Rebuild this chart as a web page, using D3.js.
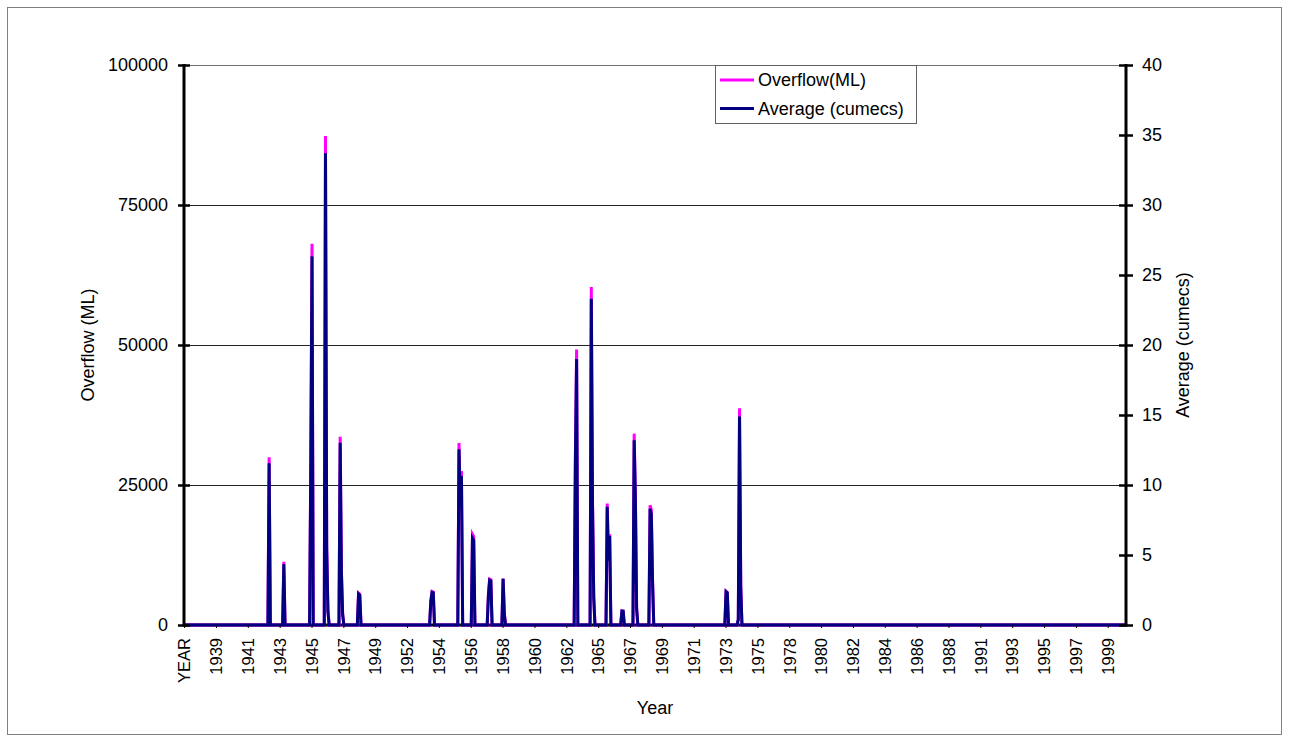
<!DOCTYPE html>
<html>
<head>
<meta charset="utf-8">
<script src="https://cdn.jsdelivr.net/npm/d3@7"></script>
<style>
  body { margin: 0; background: #fff; }
  text { font-family: "Liberation Sans", Arial, sans-serif; fill: #000; }
</style>
</head>
<body>
<div id="chart"></div>
<script>
// Months with a non-zero overflow (all other months are 0)
var peakMonths = ["1942-09", "1943-09",
  "1945-07", "1945-08", "1946-07", "1946-08", "1946-09",
  "1947-07", "1947-08", "1947-09", "1948-10", "1948-11",
  "1953-09", "1953-10", "1953-11", "1955-08", "1955-09", "1955-10",
  "1956-07", "1956-08", "1957-08", "1957-09", "1957-10", "1958-08", "1958-09",
  "1963-07", "1963-08", "1964-08", "1964-09", "1964-10",
  "1965-09", "1965-10", "1965-11", "1966-09", "1966-10",
  "1967-07", "1967-08", "1967-09", "1968-08", "1968-09", "1968-10",
  "1973-10", "1973-11", "1974-08", "1974-09", "1974-10"];

var overflowML = [29950, 11280,
  29000, 68100, 87340, 14000, 2500,
  33630, 9700, 2000, 5700, 5500,
  4300, 6000, 5900, 32500, 22000, 27500,
  16200, 15800, 5500, 8200, 8100, 8300, 2000,
  30000, 49200, 60370, 22000, 5000,
  21700, 12000, 16200, 2500, 2400,
  34170, 23000, 3000, 21400, 20500, 8000,
  6000, 5800, 1000, 38700, 7000];

var averageCumecs = [11.56, 4.35,
  11.2, 26.33, 33.7, 5.4, 0.95,
  13.02, 3.75, 0.77, 2.21, 2.13,
  1.7, 2.33, 2.3, 12.55, 8.5, 10.64,
  6.2, 6.05, 2.1, 3.2, 3.15, 3.3, 0.8,
  11.6, 19.0, 23.3, 8.5, 1.9,
  8.44, 4.6, 6.36, 1.0, 1.0,
  13.2, 8.9, 1.15, 8.3, 7.9, 3.1,
  2.38, 2.3, 0.4, 14.9, 2.7];

var leftTicks = [0, 25000, 50000, 75000, 100000];
var rightTicks = [0, 5, 10, 15, 20, 25, 30, 35, 40];

// Category axis: header row then one row per month, Jan 1937 to Dec 2000
var categories = ["YEAR"];
for (var yr = 1937; yr <= 2000; yr++) {
  for (var m = 1; m <= 12; m++) categories.push(yr + "-" + (m < 10 ? "0" + m : m));
}
var labelEvery = 26;

var width = 1289, height = 743;
var plotLeft = 184, plotRight = 1126, plotTop = 65, plotBottom = 625;

var svg = d3.select("#chart").append("svg")
  .attr("width", width)
  .attr("height", height);

// outer chart border
svg.append("rect")
  .attr("x", 7.5).attr("y", 7.5)
  .attr("width", 1274).attr("height", 727)
  .attr("fill", "#fff")
  .attr("stroke", "#808080");

var x = d3.scaleBand().domain(categories).range([plotLeft, plotRight]).padding(0);
var y = d3.scaleLinear().domain([0, 100000]).range([plotBottom, plotTop]);
var y2 = d3.scaleLinear().domain([0, 40]).range([plotBottom, plotTop]);

var lookup = {};
peakMonths.forEach(function(m, i) { lookup[m] = i; });

var rows = categories.map(function(c) {
  var i = lookup[c];
  return {
    cat: c,
    overflow: i === undefined ? 0 : overflowML[i],
    avg: i === undefined ? 0 : averageCumecs[i]
  };
});

// gridlines
svg.selectAll(".grid")
  .data(leftTicks.slice(1))
  .enter().append("line")
  .attr("x1", plotLeft).attr("x2", plotRight)
  .attr("y1", function(d) { return Math.round(y(d)) + 0.5; })
  .attr("y2", function(d) { return Math.round(y(d)) + 0.5; })
  .attr("stroke", function(d) { return d === 100000 ? "#707070" : "#222"; })
  .attr("stroke-width", 1);

var cx = function(d) { return x(d.cat) + x.bandwidth() / 2; };

var overflowLine = d3.line().x(cx).y(function(d) { return y(d.overflow); });
var avgLine = d3.line().x(cx).y(function(d) { return y2(d.avg); });

// bottom axis line
svg.append("line")
  .attr("x1", plotLeft).attr("x2", plotRight)
  .attr("y1", plotBottom).attr("y2", plotBottom)
  .attr("stroke", "#000").attr("stroke-width", 3);

svg.append("path")
  .datum(rows)
  .attr("d", overflowLine)
  .attr("fill", "none")
  .attr("stroke", "#ff00ff")
  .attr("stroke-width", 3)
  .attr("stroke-linejoin", "miter");

svg.append("path")
  .datum(rows)
  .attr("d", avgLine)
  .attr("fill", "none")
  .attr("stroke", "#000080")
  .attr("stroke-width", 3)
  .attr("stroke-linejoin", "miter");

// left axis
var yAxis = svg.append("g")
  .attr("transform", "translate(" + plotLeft + ",0)")
  .call(d3.axisLeft(y).tickValues(leftTicks).tickFormat(d3.format("d")).tickSize(6).tickPadding(10));
yAxis.select(".domain").remove();
yAxis.selectAll(".tick line").attr("x1", 6).attr("stroke-width", 2.5);
yAxis.selectAll("text").style("font-size", "18px").attr("font-family", null);
yAxis.append("line")
  .attr("x1", 0).attr("x2", 0).attr("y1", plotTop - 1).attr("y2", plotBottom + 1.5)
  .attr("stroke", "#000").attr("stroke-width", 3);

// right axis
var y2Axis = svg.append("g")
  .attr("transform", "translate(" + plotRight + ",0)")
  .call(d3.axisRight(y2).tickValues(rightTicks).tickSize(7).tickPadding(9));
y2Axis.select(".domain").remove();
y2Axis.selectAll(".tick line").attr("x1", -7).attr("stroke-width", 2.5);
y2Axis.selectAll("text").style("font-size", "18px").attr("font-family", null);
y2Axis.append("line")
  .attr("x1", 0).attr("x2", 0).attr("y1", plotTop - 1).attr("y2", plotBottom + 1.5)
  .attr("stroke", "#000").attr("stroke-width", 3);

// bottom category axis
var xAxis = svg.append("g")
  .attr("transform", "translate(0," + plotBottom + ")")
  .call(d3.axisBottom(x)
    .tickValues(categories.filter(function(d, i) { return i % labelEvery === 0; }))
    .tickFormat(function(d) { return d === "YEAR" ? d : d.slice(0, 4); })
    .tickSize(3));
xAxis.select(".domain").remove();
xAxis.selectAll("text")
  .attr("font-family", null)
  .style("font-size", "16.5px")
  .style("text-anchor", "end")
  .attr("transform", "rotate(-90)")
  .attr("x", -13)
  .attr("y", 0)
  .attr("dy", "0.35em");

// axis titles
svg.append("text")
  .attr("transform", "translate(94,345) rotate(-90)")
  .attr("text-anchor", "middle")
  .style("font-size", "18px")
  .text("Overflow (ML)");

svg.append("text")
  .attr("transform", "translate(1189,345) rotate(-90)")
  .attr("text-anchor", "middle")
  .style("font-size", "18px")
  .text("Average (cumecs)");

svg.append("text")
  .attr("x", 655).attr("y", 714)
  .attr("text-anchor", "middle")
  .style("font-size", "18px")
  .text("Year");

// legend
var legend = svg.append("g");
legend.append("rect")
  .attr("x", 715.5).attr("y", 65.5)
  .attr("width", 201).attr("height", 58)
  .attr("fill", "#fff")
  .attr("stroke", "#606060");

var legendItems = [
  { label: "Overflow(ML)", color: "#ff00ff" },
  { label: "Average (cumecs)", color: "#000080" }
];
legend.selectAll(".li")
  .data(legendItems)
  .enter().append("line")
  .attr("x1", 720).attr("x2", 754)
  .attr("y1", function(d, i) { return 80 + i * 28.5; })
  .attr("y2", function(d, i) { return 80 + i * 28.5; })
  .attr("stroke", function(d) { return d.color; })
  .attr("stroke-width", 3);
legend.selectAll(".lt")
  .data(legendItems)
  .enter().append("text")
  .attr("x", 758)
  .attr("y", function(d, i) { return 80 + i * 28.5; })
  .attr("dy", "0.35em")
  .style("font-size", "18px")
  .text(function(d) { return d.label; });
</script>
</body>
</html>
